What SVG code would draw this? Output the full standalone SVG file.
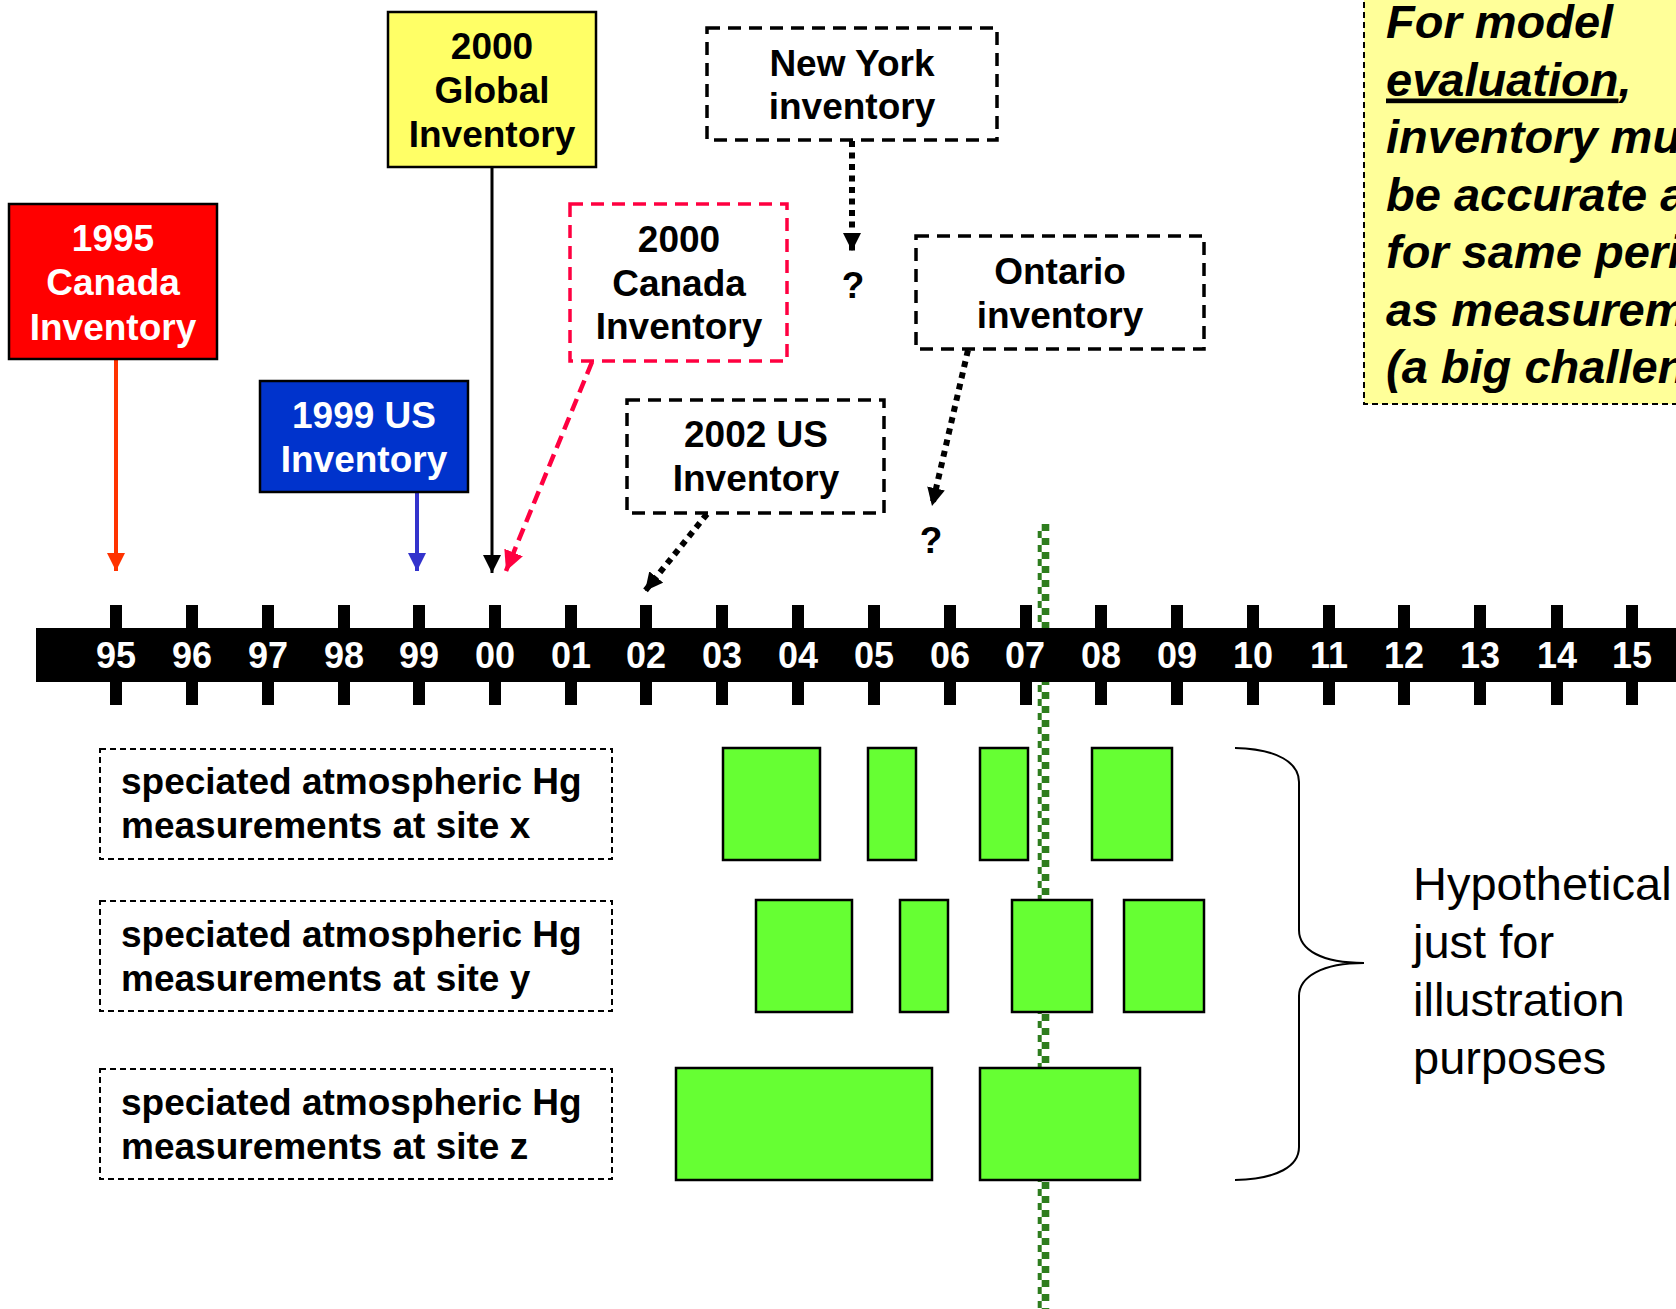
<svg xmlns="http://www.w3.org/2000/svg" width="1676" height="1309" viewBox="0 0 1676 1309">
<style>
.lbl{font-family:"Liberation Sans",Arial,sans-serif;font-weight:bold;font-size:37px;text-anchor:middle;}
.w{fill:#fff;}
.k{fill:#000;}
.yr{font-family:"Liberation Sans",Arial,sans-serif;font-weight:bold;font-size:36px;text-anchor:middle;fill:#fff;}
.site{font-family:"Liberation Sans",Arial,sans-serif;font-weight:bold;font-size:37px;fill:#000;}
.note{font-family:"Liberation Sans",Arial,sans-serif;font-weight:bold;font-style:italic;font-size:47px;fill:#000;}
.hyp{font-family:"Liberation Sans",Arial,sans-serif;font-size:47px;fill:#000;}
.solid{stroke:#000;stroke-width:2.5;}
.dashbox{fill:#fff;stroke:#000;stroke-width:3.5;stroke-dasharray:13 8;}
.thindash{fill:#fff;stroke:#000;stroke-width:2;stroke-dasharray:6 4;}
.bar{fill:#66FF33;stroke:#000;stroke-width:2.5;}
.dots{fill:none;stroke:#000;stroke-width:6;stroke-dasharray:6 5.5;}
.tick{fill:#000;}
</style>
<defs>
<marker id="ahK" markerUnits="userSpaceOnUse" markerWidth="18" markerHeight="18" viewBox="0 0 18 18" refX="18" refY="9" orient="auto"><path d="M0,0 L18,9 L0,18 z" fill="#000"/></marker>
<marker id="ahO" markerUnits="userSpaceOnUse" markerWidth="18" markerHeight="18" viewBox="0 0 18 18" refX="18" refY="9" orient="auto"><path d="M0,0 L18,9 L0,18 z" fill="#FF3300"/></marker>
<marker id="ahB" markerUnits="userSpaceOnUse" markerWidth="18" markerHeight="18" viewBox="0 0 18 18" refX="18" refY="9" orient="auto"><path d="M0,0 L18,9 L0,18 z" fill="#3333CC"/></marker>
<marker id="ahR" markerUnits="userSpaceOnUse" markerWidth="20" markerHeight="20" viewBox="0 0 20 20" refX="20" refY="10" orient="auto"><path d="M0,0 L20,10 L0,20 z" fill="#FF0040"/></marker>
</defs>
<rect width="1676" height="1309" fill="#fff"/>

<!-- green reference line (behind) -->
<g id="ref-line-2007">
<line x1="1039.7" y1="524" x2="1039.7" y2="1309" stroke="#2E7D1E" stroke-width="4" stroke-dasharray="7 7" stroke-dashoffset="7"/>
<line x1="1045.5" y1="524" x2="1045.5" y2="1309" stroke="#2E7D1E" stroke-width="7.6" stroke-dasharray="7 7"/>
</g>

<!-- note box -->
<g id="note">
<rect x="1364" y="-10" width="330" height="414" fill="#FFFF99" stroke="#000" stroke-width="2" stroke-dasharray="6 4"/>
<text class="note" x="1386" y="38">For model</text>
<text class="note" x="1386" y="95.5"><tspan text-decoration="underline">evaluation</tspan>,</text>
<text class="note" x="1386" y="153">inventory must</text>
<text class="note" x="1386" y="210.5">be accurate and</text>
<text class="note" x="1386" y="268">for same period</text>
<text class="note" x="1386" y="325.5">as measurements</text>
<text class="note" x="1386" y="383">(a big challenge)</text>
</g>

<!-- connectors -->
<g id="connectors">
<line x1="116" y1="359" x2="116" y2="571" stroke="#FF3300" stroke-width="4" marker-end="url(#ahO)"/>
<line x1="417" y1="492" x2="417" y2="571" stroke="#3333CC" stroke-width="4" marker-end="url(#ahB)"/>
<line x1="492" y1="167" x2="492" y2="573" stroke="#000" stroke-width="3" marker-end="url(#ahK)"/>
<line x1="592" y1="362" x2="506" y2="571" stroke="#FF0040" stroke-width="4.5" stroke-dasharray="13 7" marker-end="url(#ahR)"/>
<line x1="852" y1="141" x2="852" y2="251" class="dots" marker-end="url(#ahK)"/>
<line x1="968" y1="350" x2="932" y2="506" class="dots" marker-end="url(#ahK)"/>
<line x1="707" y1="514" x2="645" y2="591" class="dots" marker-end="url(#ahK)"/>
</g>

<!-- inventory nodes -->
<g id="canada1995">
<rect x="9" y="204" width="208" height="155" fill="#FF0000" class="solid"/>
<text class="lbl w" x="113" y="251">1995</text>
<text class="lbl w" x="113" y="295">Canada</text>
<text class="lbl w" x="113" y="340">Inventory</text>
</g>
<g id="us1999">
<rect x="260" y="381" width="208" height="111" fill="#0033CC" class="solid"/>
<text class="lbl w" x="364" y="428">1999 US</text>
<text class="lbl w" x="364" y="472">Inventory</text>
</g>
<g id="global2000">
<rect x="388" y="12" width="208" height="155" fill="#FFFF66" class="solid"/>
<text class="lbl k" x="492" y="59">2000</text>
<text class="lbl k" x="492" y="103">Global</text>
<text class="lbl k" x="492" y="147">Inventory</text>
</g>
<g id="canada2000">
<rect x="570" y="204" width="217" height="157" fill="#fff" stroke="#FF0040" stroke-width="3.5" stroke-dasharray="13 8"/>
<text class="lbl k" x="679" y="252">2000</text>
<text class="lbl k" x="679" y="296">Canada</text>
<text class="lbl k" x="679" y="339">Inventory</text>
</g>
<g id="newyork">
<rect x="707" y="28" width="290" height="112" class="dashbox"/>
<text class="lbl k" x="852" y="76">New York</text>
<text class="lbl k" x="852" y="119">inventory</text>
</g>
<g id="ontario">
<rect x="916" y="236" width="288" height="113" class="dashbox"/>
<text class="lbl k" x="1060" y="284">Ontario</text>
<text class="lbl k" x="1060" y="328">inventory</text>
</g>
<g id="us2002">
<rect x="627" y="400" width="257" height="113" class="dashbox"/>
<text class="lbl k" x="756" y="447">2002 US</text>
<text class="lbl k" x="756" y="491">Inventory</text>
</g>
<g id="q-newyork"><text class="lbl k" x="853" y="298">?</text></g>
<g id="q-ontario"><text class="lbl k" x="931" y="553">?</text></g>

<!-- timeline -->
<g id="timeline">
<rect x="36" y="628" width="1660" height="54" fill="#000"/>
<rect class="tick" x="110" y="605" width="12" height="100"/>
<rect class="tick" x="186" y="605" width="12" height="100"/>
<rect class="tick" x="262" y="605" width="12" height="100"/>
<rect class="tick" x="338" y="605" width="12" height="100"/>
<rect class="tick" x="413" y="605" width="12" height="100"/>
<rect class="tick" x="489" y="605" width="12" height="100"/>
<rect class="tick" x="565" y="605" width="12" height="100"/>
<rect class="tick" x="640" y="605" width="12" height="100"/>
<rect class="tick" x="716" y="605" width="12" height="100"/>
<rect class="tick" x="792" y="605" width="12" height="100"/>
<rect class="tick" x="868" y="605" width="12" height="100"/>
<rect class="tick" x="944" y="605" width="12" height="100"/>
<rect class="tick" x="1020" y="605" width="12" height="100"/>
<rect class="tick" x="1095" y="605" width="12" height="100"/>
<rect class="tick" x="1171" y="605" width="12" height="100"/>
<rect class="tick" x="1247" y="605" width="12" height="100"/>
<rect class="tick" x="1323" y="605" width="12" height="100"/>
<rect class="tick" x="1398" y="605" width="12" height="100"/>
<rect class="tick" x="1474" y="605" width="12" height="100"/>
<rect class="tick" x="1551" y="605" width="12" height="100"/>
<rect class="tick" x="1626" y="605" width="12" height="100"/>
<text class="yr" x="116" y="668">95</text>
<text class="yr" x="192" y="668">96</text>
<text class="yr" x="268" y="668">97</text>
<text class="yr" x="344" y="668">98</text>
<text class="yr" x="419" y="668">99</text>
<text class="yr" x="495" y="668">00</text>
<text class="yr" x="571" y="668">01</text>
<text class="yr" x="646" y="668">02</text>
<text class="yr" x="722" y="668">03</text>
<text class="yr" x="798" y="668">04</text>
<text class="yr" x="874" y="668">05</text>
<text class="yr" x="950" y="668">06</text>
<text class="yr" x="1025" y="668">07</text>
<text class="yr" x="1101" y="668">08</text>
<text class="yr" x="1177" y="668">09</text>
<text class="yr" x="1253" y="668">10</text>
<text class="yr" x="1329" y="668">11</text>
<text class="yr" x="1404" y="668">12</text>
<text class="yr" x="1480" y="668">13</text>
<text class="yr" x="1557" y="668">14</text>
<text class="yr" x="1632" y="668">15</text>
</g>

<!-- site labels -->
<g id="site-x">
<rect x="100" y="749" width="512" height="110" class="thindash"/>
<text class="site" x="121" y="794">speciated atmospheric Hg</text>
<text class="site" x="121" y="838">measurements at site x</text>
</g>
<g id="site-y">
<rect x="100" y="901" width="512" height="110" class="thindash"/>
<text class="site" x="121" y="947">speciated atmospheric Hg</text>
<text class="site" x="121" y="991">measurements at site y</text>
</g>
<g id="site-z">
<rect x="100" y="1069" width="512" height="110" class="thindash"/>
<text class="site" x="121" y="1115">speciated atmospheric Hg</text>
<text class="site" x="121" y="1159">measurements at site z</text>
</g>

<!-- measurement periods -->
<g id="periods-x">
<rect class="bar" x="723" y="748" width="97" height="112"/>
<rect class="bar" x="868" y="748" width="48" height="112"/>
<rect class="bar" x="980" y="748" width="48" height="112"/>
<rect class="bar" x="1092" y="748" width="80" height="112"/>
</g>
<g id="periods-y">
<rect class="bar" x="756" y="900" width="96" height="112"/>
<rect class="bar" x="900" y="900" width="48" height="112"/>
<rect class="bar" x="1012" y="900" width="80" height="112"/>
<rect class="bar" x="1124" y="900" width="80" height="112"/>
</g>
<g id="periods-z">
<rect class="bar" x="676" y="1068" width="256" height="112"/>
<rect class="bar" x="980" y="1068" width="160" height="112"/>
</g>

<!-- brace and caption -->
<g id="brace">
<path d="M1235,748 C1278,749 1299,763 1299,782 L1299,930 C1299,950 1322,963 1364,963 C1322,963 1299,977 1299,996 L1299,1147 C1299,1166 1278,1179 1235,1180" fill="none" stroke="#000" stroke-width="2"/>
</g>
<g id="hypothetical">
<text class="hyp" x="1413" y="900">Hypothetical</text>
<text class="hyp" x="1413" y="958">just for</text>
<text class="hyp" x="1413" y="1016">illustration</text>
<text class="hyp" x="1413" y="1074">purposes</text>
</g>
</svg>
